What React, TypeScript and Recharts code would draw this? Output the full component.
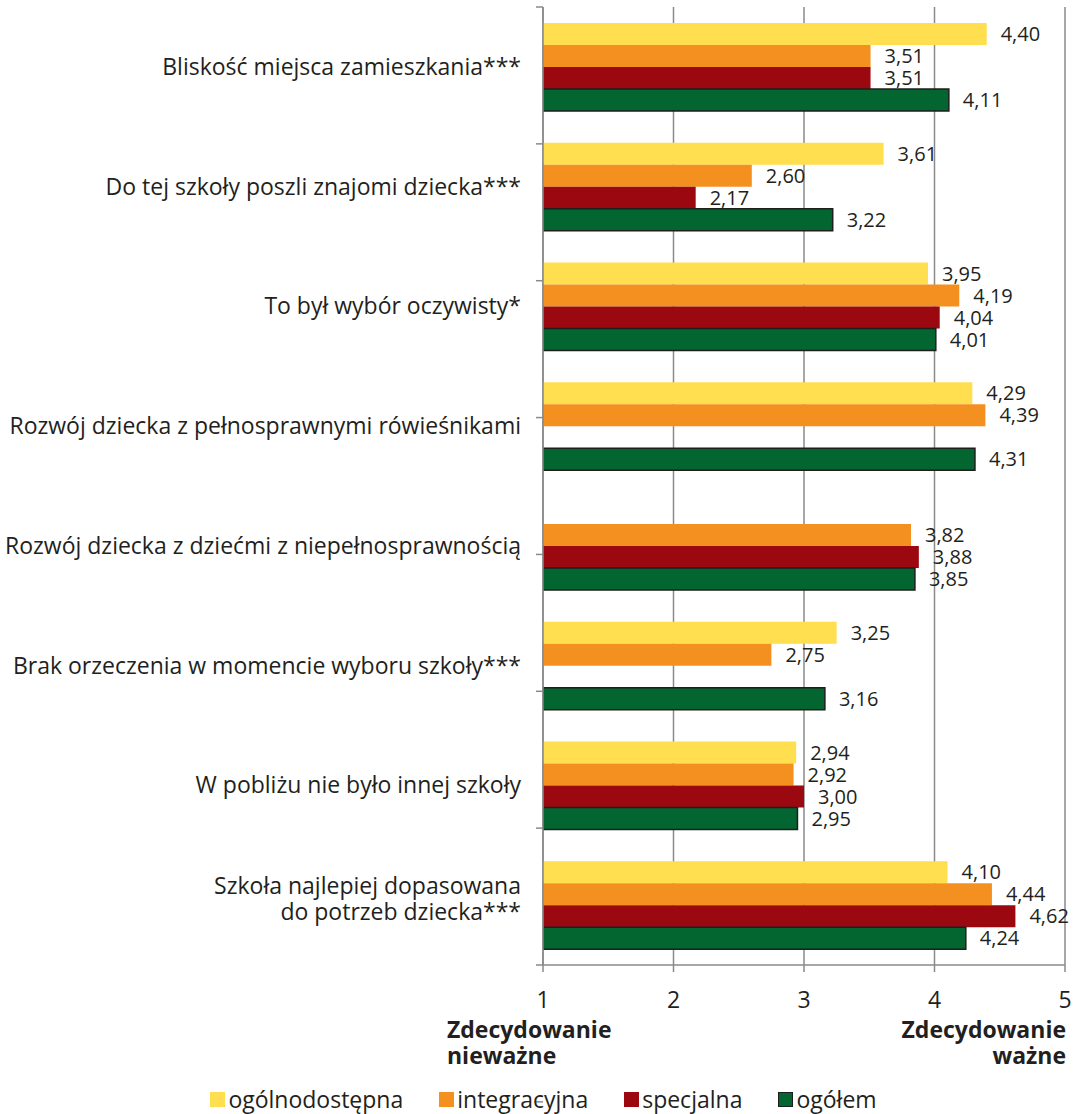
import React from 'react';
import { BarChart, Bar, XAxis, YAxis, CartesianGrid, LabelList, Legend } from 'recharts';

const categories = [
  'Bliskość miejsca zamieszkania***',
  'Do tej szkoły poszli znajomi dziecka***',
  'To był wybór oczywisty*',
  'Rozwój dziecka z pełnosprawnymi rówieśnikami',
  'Rozwój dziecka z dziećmi z niepełnosprawnością',
  'Brak orzeczenia w momencie wyboru szkoły***',
  'W pobliżu nie było innej szkoły',
  'Szkoła najlepiej dopasowana\ndo potrzeb dziecka***',
];

const ogolnodostepna = [4.4, 3.61, 3.95, 4.29, null, 3.25, 2.94, 4.1];
const integracyjna = [3.51, 2.6, 4.19, 4.39, 3.82, 2.75, 2.92, 4.44];
const specjalna = [3.51, 2.17, 4.04, null, 3.88, null, 3.0, 4.62];
const ogolem = [4.11, 3.22, 4.01, 4.31, 3.85, 3.16, 2.95, 4.24];

const xTicks = [1, 2, 3, 4, 5];
const bandEdges = [0, 1, 2, 3, 4, 5, 6, 7, 8];

const series = [
  { key: 'ogolnodostepna', name: 'ogólnodostępna', color: '#FFDE50', stroke: 'none' },
  { key: 'integracyjna', name: 'integracyjna', color: '#F4901F', stroke: 'none' },
  { key: 'specjalna', name: 'specjalna', color: '#9C0810', stroke: 'none' },
  { key: 'ogolem', name: 'ogółem', color: '#036530', stroke: '#1e1e1e' },
];

const data = categories.map((name, i) => ({
  name,
  ogolnodostepna: ogolnodostepna[i],
  integracyjna: integracyjna[i],
  specjalna: specjalna[i],
  ogolem: ogolem[i],
}));

const FONT = '"Open Sans", "Noto Sans", sans-serif';
const TEXT = '#231f20';
const AXIS = '#8a8a8a';

const formatValue = (v: any) => (v == null ? '' : Number(v).toFixed(2).replace('.', ','));

const CategoryTick = (props: any) => {
  const { x, y, payload } = props;
  const lines = String(payload.value).split('\n');
  const lh = 26;
  const start = -((lines.length - 1) * lh) / 2 - (lines.length > 1 ? 6 : 0) + 8;
  return (
    <text x={x} y={y} textAnchor="end" fontSize={23} fill={TEXT} fontFamily={FONT}>
      {lines.map((l, i) => (
        <tspan key={i} x={x} dy={i === 0 ? start : lh}>
          {l}
        </tspan>
      ))}
    </text>
  );
};

const NoTick = () => <g />;

const LegendContent = () => (
  <div
    style={{
      display: 'flex',
      justifyContent: 'center',
      alignItems: 'center',
      gap: 36,
      fontFamily: FONT,
      fontSize: 23,
      lineHeight: '26px',
      color: TEXT,
      paddingLeft: 10,
    }}
  >
    {series.map((s) => (
      <div key={s.key} style={{ display: 'flex', alignItems: 'center' }}>
        <span
          style={{
            display: 'inline-block',
            width: 15,
            height: 15,
            background: s.color,
            boxSizing: 'border-box',
            border: s.stroke === 'none' ? 'none' : `1.5px solid ${s.stroke}`,
            marginRight: 3,
          }}
        />
        <span>{s.name}</span>
      </div>
    ))}
  </div>
);

export default function App() {
  return (
    <div style={{ position: 'absolute', left: 0, top: 0, width: 1077, height: 1114, background: '#fff' }}>
      <BarChart
        width={1077}
        height={1114}
        data={data}
        layout="vertical"
        margin={{ top: 7, right: 12, bottom: 79, left: 8 }}
        barSize={22}
        barGap={0}
      >
        <CartesianGrid horizontal={false} vertical stroke={AXIS} strokeWidth={1.5} />
        <XAxis
          type="number"
          domain={[1, 5]}
          ticks={xTicks}
          allowDataOverflow
          height={40}
          stroke={AXIS}
          strokeWidth={1.5}
          tickSize={7}
          tickMargin={20}
          tick={{ fontSize: 23, fill: TEXT, fontFamily: FONT }}
        />
        {/* axis line plus tick marks on the category boundaries */}
        <YAxis
          yAxisId="aEdges"
          type="number"
          domain={[0, 8]}
          ticks={bandEdges}
          interval={0}
          allowDataOverflow
          width={1}
          axisLine={{ stroke: AXIS, strokeWidth: 1.5 }}
          tick={<NoTick />}
          tickSize={7}
          tickLine={{ stroke: AXIS, strokeWidth: 1.5 }}
        />
        <YAxis
          yAxisId="zCat"
          type="category"
          dataKey="name"
          width={534}
          tickLine={false}
          axisLine={false}
          tickMargin={15}
          tick={<CategoryTick />}
          interval={0}
        />
        <Legend
          verticalAlign="bottom"
          height={30}
          content={<LegendContent />}
          wrapperStyle={{ top: 1086, bottom: 'auto', left: 0, width: 1077 }}
        />
        {series.map((s) => (
          <Bar
            key={s.key}
            yAxisId="zCat"
            dataKey={s.key}
            name={s.name}
            fill={s.color}
            stroke={s.stroke}
            strokeWidth={s.stroke === 'none' ? 0 : 1.5}
            isAnimationActive={false}
          >
            <LabelList
              dataKey={s.key}
              position="right"
              offset={14}
              formatter={formatValue}
              style={{ fontSize: 20, fill: TEXT, fontFamily: FONT }}
            />
          </Bar>
        ))}
      </BarChart>
      <div
        style={{
          position: 'absolute',
          left: 447,
          top: 1016,
          fontFamily: FONT,
          fontWeight: 700,
          fontSize: 23,
          lineHeight: '26px',
          color: TEXT,
          textAlign: 'left',
        }}
      >
        Zdecydowanie
        <br />
        nieważne
      </div>
      <div
        style={{
          position: 'absolute',
          right: 1077 - 1066,
          top: 1016,
          fontFamily: FONT,
          fontWeight: 700,
          fontSize: 23,
          lineHeight: '26px',
          color: TEXT,
          textAlign: 'right',
        }}
      >
        Zdecydowanie
        <br />
        ważne
      </div>
    </div>
  );
}
